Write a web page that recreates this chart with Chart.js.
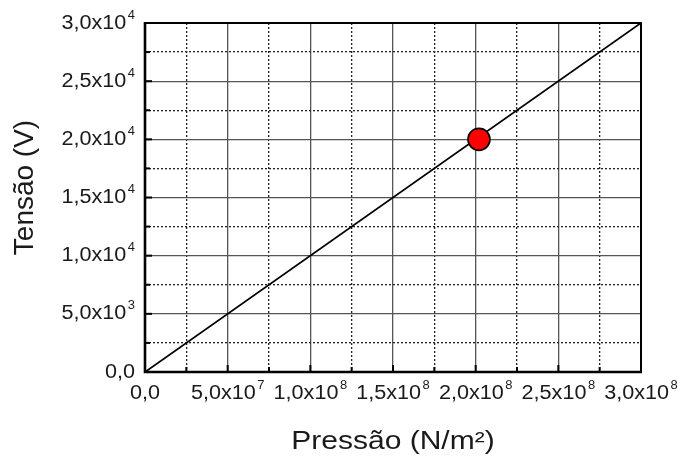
<!DOCTYPE html>
<html>
<head>
<meta charset="utf-8">
<script src="https://cdn.jsdelivr.net/npm/chart.js@4/dist/chart.umd.min.js"></script>
<style>
html,body{margin:0;padding:0;background:#ffffff;}
#wrap{width:680px;height:457px;}
</style>
</head>
<body>
<div id="wrap"><canvas id="c" width="680" height="457"></canvas></div>
<script>
// ---- data ----
const lineX = [0, 3.0e8];            // Pressão (N/m²)
const lineY = [0, 3.0e4];            // Tensão (V)
const pointX = [2.02e8];
const pointY = [2.0e4];
const xTickValues = [0, 5e7, 1e8, 1.5e8, 2e8, 2.5e8, 3e8];
const xTickLabels = ['0,0', '5,0x10\u2077', '1,0x10\u2078', '1,5x10\u2078', '2,0x10\u2078', '2,5x10\u2078', '3,0x10\u2078'];
const yTickValues = [0, 5e3, 1e4, 1.5e4, 2e4, 2.5e4, 3e4];
const yTickLabels = ['0,0', '5,0x10\u00B3', '1,0x10\u2074', '1,5x10\u2074', '2,0x10\u2074', '2,5x10\u2074', '3,0x10\u2074'];
const xTitle = 'Pressão (N/m\u00B2)';
const yTitle = 'Tensão (V)';

const FONT = "'Liberation Sans', Arial, sans-serif";
const STRETCH = {20: 1.08, 25: 1.2};
const SUP_MAP = {'\u2070':'0','\u00B9':'1','\u00B2':'2','\u00B3':'3','\u2074':'4','\u2075':'5','\u2076':'6','\u2077':'7','\u2078':'8','\u2079':'9'};
const SUP_RE = /^(.*x10)([\u2070\u00B9\u00B2\u00B3\u2074-\u2079]+)$/;

const canvas = document.getElementById('c');
const g = canvas.getContext('2d');
const oFill = g.fillText.bind(g);
const oMeasure = g.measureText.bind(g);
function fontPx(c) {
  const m = /(\d+(?:\.\d+)?)px/.exec(c.font);
  return m ? +m[1] : 0;
}
function sx(c) { return STRETCH[Math.round(fontPx(c))] || 1; }
function supFont(c) { return c.font.replace(/(\d+(?:\.\d+)?)px/, '12px'); }
function drawPlain(c, t, x, y) {
  const s = sx(c);
  const tr = c.getTransform();
  if (s === 1 || Math.abs(tr.b) > 0.01) { oFill(t, x, y); return; }
  c.save(); c.translate(x, y); c.scale(s, 1); oFill(t, 0, 0); c.restore();
}
function splitSup(t) {
  const m = SUP_RE.exec(t);
  if (!m) return null;
  return [m[1], m[2].split('').map(ch => SUP_MAP[ch]).join('')];
}
const SUP_GAP = 1.5;
g.fillText = function (t, x, y, mw) {
  const tr = this.getTransform();
  if (t === yTitle && Math.abs(tr.b) > 0.01) {
    // rotated axis title
    oFill(t, x + 10, y);
    return;
  }
  const parts = typeof t === 'string' ? splitSup(t) : null;
  if (!parts) { drawPlain(this, t, x, y); return; }
  const s = sx(this);
  const baseFont = this.font;
  const wBase = oMeasure(parts[0]).width * s;
  const aBase = oMeasure('0').actualBoundingBoxAscent;
  this.font = supFont(this);
  const wSup = oMeasure(parts[1]).width * s;
  const aSup = oMeasure('0').actualBoundingBoxAscent;
  this.font = baseFont;
  const total = wBase + SUP_GAP + wSup;
  const align = this.textAlign;
  let x0 = x;
  if (align === 'right' || align === 'end') x0 = x - total;
  else if (align === 'center') x0 = x - total / 2;
  this.save();
  this.textAlign = 'left';
  drawPlain(this, parts[0], x0, y);
  this.font = supFont(this);
  const off = aSup - aBase - 5;
  this.save(); this.translate(x0 + wBase + SUP_GAP, y + off); this.scale(s, 1); oFill(parts[1], 0, 0); this.restore();
  this.restore();
};
g.measureText = function (t) {
  const parts = typeof t === 'string' ? splitSup(t) : null;
  const s = sx(this);
  if (parts) {
    const baseFont = this.font;
    const wBase = oMeasure(parts[0]).width * s;
    this.font = supFont(this);
    const wSup = oMeasure(parts[1]).width * s;
    this.font = baseFont;
    const m = oMeasure(parts[0]);
    return {width: wBase + SUP_GAP + wSup, actualBoundingBoxAscent: m.actualBoundingBoxAscent, actualBoundingBoxDescent: m.actualBoundingBoxDescent};
  }
  const m = oMeasure(t);
  if (s === 1) return m;
  return {width: m.width * s, actualBoundingBoxAscent: m.actualBoundingBoxAscent, actualBoundingBoxDescent: m.actualBoundingBoxDescent};
};

function isMajor(v, step) { return Math.abs(Math.round(v / step) % 2) === 0; }
function labelFor(v, values, labels) {
  for (let i = 0; i < values.length; i++) {
    if (Math.abs(values[i] - v) < 1e-6 * Math.max(1, Math.abs(values[i]))) return labels[i];
  }
  return '';
}

const framePlugin = {
  id: 'frame',
  beforeDatasetsDraw(chart) {
    const {ctx, chartArea: a, scales} = chart;
    ctx.save();
    ctx.strokeStyle = '#000';
    ctx.lineCap = 'butt';
    ctx.lineWidth = 2;
    scales.x.ticks.forEach(t => {
      const px = scales.x.getPixelForValue(t.value);
      const len = isMajor(t.value, 2.5e7) ? 7 : 5;
      ctx.beginPath(); ctx.moveTo(px, a.bottom); ctx.lineTo(px, a.bottom - len); ctx.stroke();
    });
    scales.y.ticks.forEach(t => {
      const py = scales.y.getPixelForValue(t.value);
      const len = isMajor(t.value, 2.5e3) ? 7 : 5;
      ctx.beginPath(); ctx.moveTo(a.left, py); ctx.lineTo(a.left + len, py); ctx.stroke();
    });
    ctx.lineWidth = 2;
    ctx.beginPath();
    ctx.moveTo(a.left, a.top); ctx.lineTo(a.right, a.top); ctx.lineTo(a.right, a.bottom);
    ctx.stroke();
    ctx.lineWidth = 2.6;
    ctx.beginPath();
    ctx.moveTo(a.left, a.top - 1); ctx.lineTo(a.left, a.bottom); ctx.lineTo(a.right + 1, a.bottom);
    ctx.stroke();
    ctx.restore();
  }
};

new Chart(g, {
  type: 'scatter',
  data: {
    datasets: [
      {
        type: 'line',
        data: lineX.map((x, i) => ({x: x, y: lineY[i]})),
        borderColor: '#000',
        borderWidth: 1.8,
        pointRadius: 0,
        fill: false,
        tension: 0,
        order: 2
      },
      {
        data: pointX.map((x, i) => ({x: x, y: pointY[i]})),
        backgroundColor: '#ff0000',
        borderColor: '#000',
        borderWidth: 1.6,
        pointRadius: 11,
        pointHoverRadius: 11,
        order: 1
      }
    ]
  },
  options: {
    responsive: false,
    animation: false,
    devicePixelRatio: 1,
    layout: {padding: {left: 0, top: 23, right: 39, bottom: 0}},
    plugins: {legend: {display: false}, tooltip: {enabled: false}},
    scales: {
      x: {
        type: 'linear',
        min: 0, max: 3e8,
        afterFit(s) { s.height = 85; s.paddingLeft = 0; s.paddingRight = 0; },
        ticks: {
          stepSize: 2.5e7,
          autoSkip: false,
          maxRotation: 0,
          padding: 9,
          color: '#1a1a1a',
          font: {family: FONT, size: 20},
          callback: (v) => labelFor(v, xTickValues, xTickLabels)
        },
        grid: {
          drawTicks: false,
          color: (c) => (c.tick && isMajor(c.tick.value, 2.5e7)) ? '#555555' : '#222222',
          lineWidth: (c) => (c.tick && isMajor(c.tick.value, 2.5e7)) ? 1.3 : 1.3
        },
        border: {
          display: false,
          dash: (c) => (c.tick && !isMajor(c.tick.value, 2.5e7)) ? [2, 2] : []
        },
        title: {
          display: true,
          text: xTitle,
          color: '#1a1a1a',
          font: {family: FONT, size: 25},
          padding: {top: 0, bottom: 0}
        }
      },
      y: {
        type: 'linear',
        min: 0, max: 3e4,
        afterFit(s) { s.width = 145; s.paddingTop = 0; s.paddingBottom = 0; },
        ticks: {
          stepSize: 2.5e3,
          autoSkip: false,
          padding: 10,
          color: '#1a1a1a',
          font: {family: FONT, size: 20},
          callback: (v) => labelFor(v, yTickValues, yTickLabels)
        },
        grid: {
          drawTicks: false,
          color: (c) => (c.tick && isMajor(c.tick.value, 2.5e3)) ? '#555555' : '#222222',
          lineWidth: (c) => (c.tick && isMajor(c.tick.value, 2.5e3)) ? 1.3 : 1.3
        },
        border: {
          display: false,
          dash: (c) => (c.tick && !isMajor(c.tick.value, 2.5e3)) ? [2, 2] : []
        },
        title: {
          display: true,
          text: yTitle,
          color: '#1a1a1a',
          font: {family: FONT, size: 28},
          padding: {top: 8, bottom: 0}
        }
      }
    }
  },
  plugins: [framePlugin]
});
</script>
</body>
</html>
